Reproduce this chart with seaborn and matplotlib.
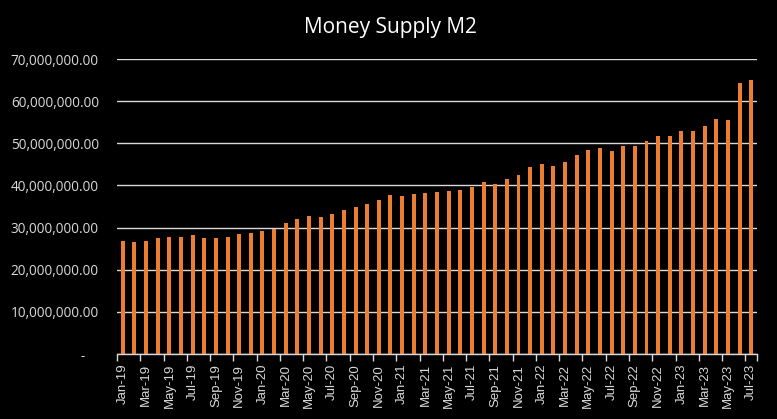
import matplotlib
matplotlib.use("Agg")
import matplotlib.pyplot as plt
import seaborn as sns
import pandas as pd
import numpy as np
from matplotlib.ticker import FixedLocator, FuncFormatter

months = pd.date_range("2019-01-01", "2023-07-01", freq="MS").strftime("%b-%y").tolist()
m2_values = [
    26.85, 26.6, 26.85, 27.56, 27.8, 27.8, 28.27, 27.56, 27.56, 27.8,
    28.5, 28.75, 29.2, 29.7, 31.1, 32.0, 32.8, 32.5, 33.2, 34.2,
    34.9, 35.6, 36.6, 37.7, 37.5, 38.0, 38.2, 38.5, 38.7, 38.9,
    39.6, 40.8, 40.3, 41.5, 42.5, 44.4, 45.1, 44.6, 45.6, 47.2,
    48.4, 48.9, 48.2, 49.4, 49.4, 50.5, 51.7, 51.7, 52.9, 52.9,
    54.1, 55.7, 55.5, 64.3, 65.0,
]
m2_values = [v * 1_000_000 for v in m2_values]
y_ticks = [0, 10e6, 20e6, 30e6, 40e6, 50e6, 60e6, 70e6]

df = pd.DataFrame({"month": months, "m2": m2_values})

sns.set_theme(style="dark")
plt.rcParams["font.family"] = ["Open Sans", "DejaVu Sans"]

fig = plt.figure(figsize=(7.77, 4.19), dpi=100, facecolor="black")
ax = fig.add_axes([0.1506, 0.155, 0.8237, 0.704])
ax.set_facecolor("black")

sns.barplot(data=df, x="month", y="m2", color="#ED7D31", width=0.34,
            saturation=1, linewidth=0, edgecolor="none", ax=ax)

ax.set_xlim(-0.5, len(months) - 0.5)
ax.set_ylim(0, 70e6)
ax.yaxis.set_major_locator(FixedLocator(y_ticks))
ax.yaxis.set_major_formatter(FuncFormatter(lambda v, p: "-    " if v == 0 else f"{v:,.2f}"))
ax.grid(axis="y", color="#d9d9d9", linewidth=1)
ax.set_axisbelow(True)

major = list(range(0, len(months), 2))
ax.set_xticks(major)
ax.set_xticklabels([months[i] for i in major], rotation=90,
                   fontfamily=["Liberation Sans", "DejaVu Sans"])
ax.set_xticks([i - 0.5 for i in major] + [len(months) - 0.5], minor=True)
ax.tick_params(axis="x", which="major", length=0, pad=7, labelsize=9.5, colors="#d9d9d9")
ax.tick_params(axis="x", which="minor", length=5, width=1, color="#d9d9d9", direction="out", bottom=True)
ax.tick_params(axis="y", length=0, pad=13, labelsize=9.8, colors="#d9d9d9")

for s in ["top", "right", "left"]:
    ax.spines[s].set_visible(False)
ax.spines["bottom"].set_color("#d9d9d9")
ax.spines["bottom"].set_linewidth(1)

ax.set_xlabel("")
ax.set_ylabel("")
fig.text(0.502, 0.935, "Money Supply M2", ha="center", va="center", color="white", fontsize=15)

fig.savefig("out.png", dpi=100, facecolor="black")
